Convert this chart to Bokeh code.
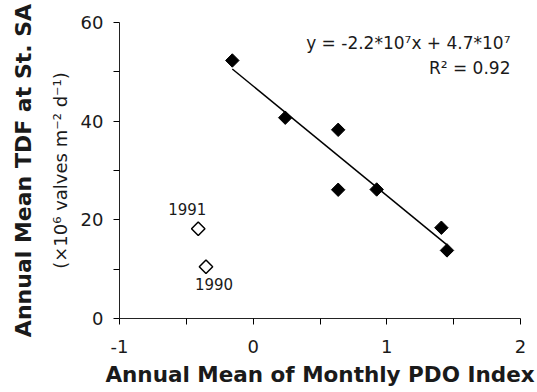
import numpy as np
from bokeh.plotting import figure
from bokeh.models import LinearAxis, FixedTicker, Label, Range1d
from bokeh.core.properties import value
from bokeh.embed import file_html
from bokeh.resources import INLINE

# ---- data ----
pdo_fit = [-0.156, 0.24, 0.636, 0.636, 0.924, 1.408, 1.45]
tdf_fit = [52.3, 40.7, 38.25, 26.1, 26.15, 18.4, 13.8]
pdo_out = [-0.411, -0.353]
tdf_out = [18.2, 10.5]
year_out = ["1991", "1990"]
x_ticks = [-1, 0, 1, 2]
x_minor = [-0.5, 0.5, 1.5]
y_ticks = [0, 20, 40, 60]
y_minor = [10, 30, 50]
eq_text = "y = -2.2*10\u2077x + 4.7*10\u2077"
r2_text = "R\u00b2 = 0.92"

FONT = "DejaVu Sans"
TXT = "#1a1a1a"

p = figure(width=537, height=392, x_range=Range1d(-1, 2), y_range=Range1d(0, 60),
           output_backend="svg", toolbar_location=None,
           min_border_left=119, min_border_right=17, min_border_top=22, min_border_bottom=74)
p.grid.visible = False
p.outline_line_color = None
p.background_fill_color = "white"
p.border_fill_color = "white"

# x axis
xa = p.xaxis[0]
xa.ticker = FixedTicker(ticks=x_ticks, minor_ticks=x_minor)
xa.major_label_overrides = {-1: "-1"}
xa.axis_label = "Annual Mean of Monthly PDO Index"
xa.axis_label_text_font = FONT
xa.axis_label_text_font_style = "bold"
xa.axis_label_text_font_size = "21.5px"
xa.axis_label_text_color = TXT
xa.axis_label_standoff = 6
xa.major_label_text_font = FONT
xa.major_label_text_font_size = "18px"
xa.major_label_text_color = TXT
xa.major_label_standoff = 15
xa.major_tick_out = 6
xa.major_tick_in = 0
xa.minor_tick_out = 6
xa.minor_tick_in = 0
xa.axis_line_color = "#222222"

# y axis (ticks + unit line)
ya = p.yaxis[0]
ya.ticker = FixedTicker(ticks=y_ticks, minor_ticks=y_minor)
ya.axis_label = "(\u00d710\u2076 valves m\u207b\u00b2 d\u207b\u00b9)"
ya.axis_label_text_font = FONT
ya.axis_label_text_font_style = "normal"
ya.axis_label_text_font_size = "18px"
ya.axis_label_text_color = TXT
ya.axis_label_standoff = 7
ya.major_label_text_font = FONT
ya.major_label_text_font_size = "18px"
ya.major_label_text_color = TXT
ya.major_label_standoff = 10
ya.major_label_orientation = "horizontal"
ya.major_tick_out = 6
ya.major_tick_in = 0
ya.minor_tick_out = 6
ya.minor_tick_in = 0
ya.axis_line_color = "#222222"

# outer y axis carrying the bold title
ya2 = LinearAxis(ticker=FixedTicker(ticks=[]), axis_label="Annual Mean TDF at St. SA",
                 axis_line_color=None, major_tick_line_color=None, minor_tick_line_color=None,
                 major_label_text_font_size="0px", axis_label_standoff=11,
                 axis_label_text_font=FONT, axis_label_text_font_style="bold",
                 axis_label_text_font_size="22px", axis_label_text_color=TXT)
p.add_layout(ya2, "left")

# regression line from the fitted points
slope, intercept = np.polyfit(pdo_fit, tdf_fit, 1)
lx = np.array([min(pdo_fit), max(pdo_fit)])
p.line(lx, slope * lx + intercept, line_color="black", line_width=1.5)

# points
p.scatter(pdo_fit, tdf_fit, marker="square", size=9.5, angle=np.pi / 4,
          fill_color="black", line_color="black")
p.scatter(pdo_out, tdf_out, marker="square", size=9.5, angle=np.pi / 4,
          fill_color="white", line_color="black", line_width=1.5)

# year labels
offsets = {"1991": (-11, -20), "1990": (8, 17)}
for xv, yv, t in zip(pdo_out, tdf_out, year_out):
    dx, dy = offsets[t]
    p.text(x=[xv], y=[yv], text=[t], x_offset=dx, y_offset=dy,
           text_align="center", text_baseline="alphabetic",
           text_font=value(FONT), text_font_size="15px", text_color=TXT)

# equation
p.add_layout(Label(x=1.925, y=55.8, text=eq_text, text_align="right", text_baseline="alphabetic",
                   text_font=FONT, text_font_size="17px", text_color=TXT))
p.add_layout(Label(x=1.925, y=50.8, text=r2_text, text_align="right", text_baseline="alphabetic",
                   text_font=FONT, text_font_size="17px", text_color=TXT))

open("out.html", "w").write(file_html(p, INLINE))
